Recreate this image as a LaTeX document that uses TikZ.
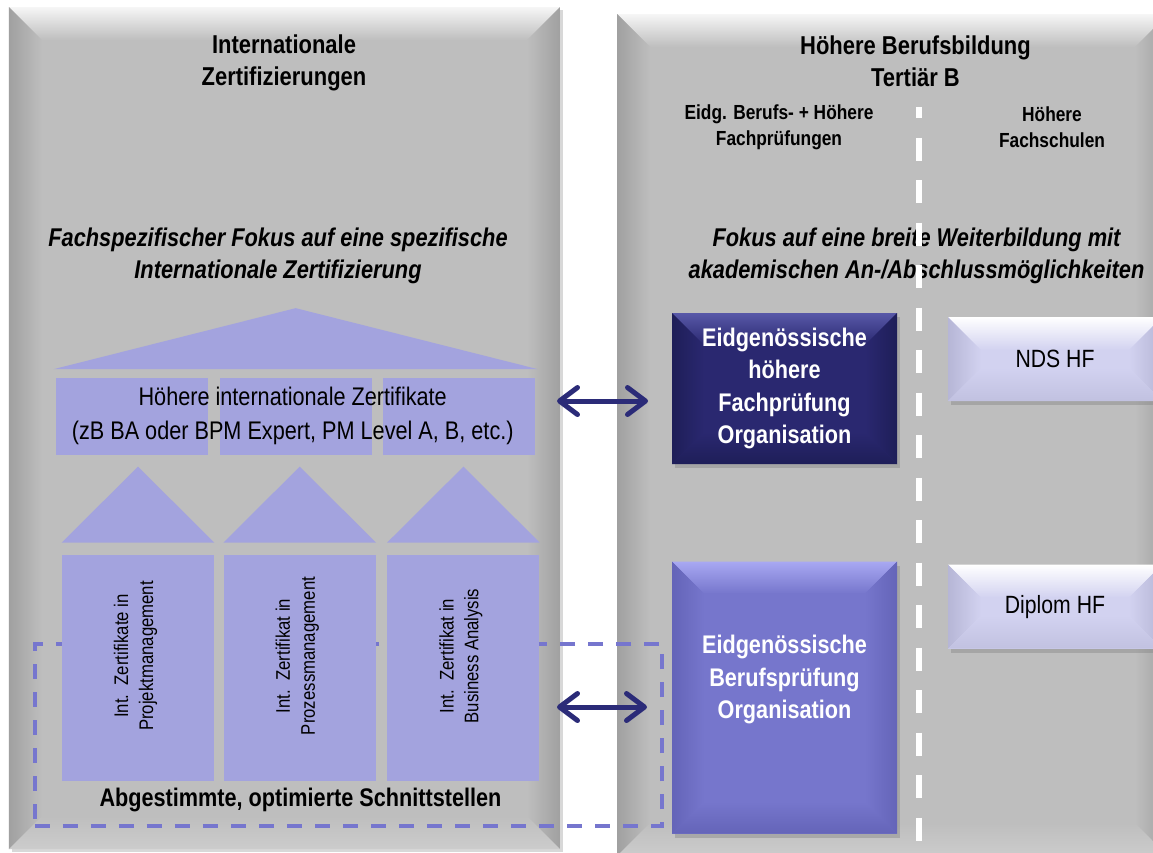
\documentclass[tikz,border=0pt]{standalone}
\usepackage{fontspec}
\setmainfont[FakeStretch=0.85]{Liberation Sans}
\usetikzlibrary{positioning}
\usetikzlibrary{arrows.meta}
\usetikzlibrary{shadows}

\definecolor{panelgray}{RGB}{190,190,190}
\definecolor{panellight}{RGB}{246,246,246}
\definecolor{paneldark}{RGB}{160,160,160}
\definecolor{panelbottom}{RGB}{204,204,204}
\definecolor{lav}{RGB}{163,163,222}
\definecolor{framecol}{RGB}{118,118,206}
\definecolor{arrowcol}{RGB}{43,43,120}
\definecolor{darkbox}{RGB}{42,40,112}
\definecolor{darktop}{RGB}{88,88,168}
\definecolor{darkside}{RGB}{30,30,88}
\definecolor{midbox}{RGB}{118,118,204}
\definecolor{midtop}{RGB}{168,168,242}
\definecolor{midside}{RGB}{100,100,184}
\definecolor{lightbox}{RGB}{210,210,240}
\definecolor{lighttop}{RGB}{255,255,255}
\definecolor{lightside}{RGB}{182,182,214}

\begin{document}
\begin{tikzpicture}[x=0.2mm, y=-0.2mm,
    bevel/.style n args={5}{path picture={
        \path (path picture bounding box.north west) coordinate (bnw)
              (path picture bounding box.north east) coordinate (bne)
              (path picture bounding box.south west) coordinate (bsw)
              (path picture bounding box.south east) coordinate (bse);
        \shade[top color=#2, bottom color=#1] (bnw) -- (bne) -- ([shift={(-#5,-#5)}]bne) -- ([shift={(#5,-#5)}]bnw) -- cycle;
        \shade[left color=#3, right color=#1] (bnw) -- ([shift={(#5,-#5)}]bnw) -- ([shift={(#5,#5)}]bsw) -- (bsw) -- cycle;
        \shade[left color=#1, right color=#3] (bne) -- ([shift={(-#5,-#5)}]bne) -- ([shift={(-#5,#5)}]bse) -- (bse) -- cycle;
        \shade[top color=#1, bottom color=#4] (bsw) -- ([shift={(#5,#5)}]bsw) -- ([shift={(-#5,#5)}]bse) -- (bse) -- cycle;
    }},
    panel/.style={minimum width=110.2mm, minimum height=168.4mm, inner sep=0pt, fill=panelgray,
        drop shadow={shadow xshift=0.6mm, shadow yshift=-0.6mm, opacity=0.3},
        bevel={panelgray}{panellight}{paneldark}{panelbottom}{6.6mm}},
    dframe/.style={draw=framecol, line width=0.7mm, dash pattern=on 3mm off 2.6mm,
        minimum width=125.4mm, minimum height=36.4mm, inner sep=0pt},
    pillar/.style={fill=lav, minimum width=30.4mm, minimum height=45.2mm, inner sep=0pt},
    beam/.style={fill=lav, minimum width=30.4mm, minimum height=15.4mm, inner sep=0pt},
    orgbox/.style={minimum width=45mm, inner sep=0pt,
        drop shadow={shadow xshift=0.5mm, shadow yshift=-0.8mm, opacity=0.4}},
    hfbox/.style={minimum width=42.8mm, minimum height=16.8mm, inner sep=0pt, fill=lightbox,
        drop shadow={shadow xshift=0.5mm, shadow yshift=-0.8mm, opacity=0.4},
        bevel={lightbox}{lighttop}{lightside}{lightside!60!lightbox}{6.6mm},
        font=\fontsize{14.2}{16}\selectfont},
    title/.style={font=\fontsize{14.7}{18.2}\selectfont\bfseries, align=center},
    subhead/.style={font=\fontsize{11.6}{14.8}\selectfont\bfseries, align=center},
    focus/.style={font=\fontsize{14.6}{18.6}\selectfont\bfseries\itshape, align=center},
    beamtext/.style={font=\fontsize{14.5}{19.2}\selectfont, align=center},
    pillartext/.style={font=\fontsize{11.2}{14.2}\selectfont, align=center, rotate=90},
    boxtext/.style={font=\fontsize{14.5}{18.4}\selectfont\bfseries, align=center, text=white},
    biarrow/.style={{Straight Barb[length=3.6mm,width=5.4mm,round]}-{Straight Barb[length=3.6mm,width=5.4mm,round]},
        line width=1mm, draw=arrowcol, line cap=round}]

    \useasboundingbox (0,0) rectangle (1153,852);
    \clip (0,0) rectangle (1153,852);
    \fill[white] (0,0) rectangle (1153,852);

    % the two panels
    \node[panel] (intl) at (284.5,428) {};
    \node[panel] (hbb) at (892.5,435) {};

    \node[title] (intltitle) at (284,63) {Internationale\\Zertifizierungen};
    \node[title] (hbbtitle) at (915.5,61) {Höhere Berufsbildung\\Tertiär B};
    \node[subhead] (eidghdr) at (779,127) {Eidg. Berufs- + Höhere\\Fachprüfungen};
    \node[subhead] (hfhdr) at (1052,127) {Höhere\\Fachschulen};
    \node[focus] (fokusl) at (278,256) {Fachspezifischer Fokus auf eine spezifische\\Internationale Zertifizierung};
    \node[focus] (fokusr) at (916.5,256) {Fokus auf eine breite Weiterbildung mit\\akademischen An-/Abschlussmöglichkeiten};

    % dashed frame behind the pillars
    \node[dframe] (frame) at (348.5,735) {};
    \node[font=\fontsize{14.5}{16}\selectfont\bfseries] (schnitt) at (300.5,800) {Abgestimmte, optimierte Schnittstellen};

    % pillars with their small roofs
    \node[pillar] (col1) at (138,668) {};
    \node[pillar, right=1.8mm of col1] (col2) {};
    \node[pillar, right=2.2mm of col2] (col3) {};
    \fill[lav] ([yshift=2.4mm]col1.north west) -- ([yshift=17.6mm]col1.north) -- ([yshift=2.4mm]col1.north east) -- cycle;
    \fill[lav] ([yshift=2.4mm]col2.north west) -- ([yshift=17.6mm]col2.north) -- ([yshift=2.4mm]col2.north east) -- cycle;
    \fill[lav] ([yshift=2.4mm]col3.north west) -- ([yshift=17.6mm]col3.north) -- ([yshift=2.4mm]col3.north east) -- cycle;
    \node[pillartext] (col1t) at ([xshift=-0.5mm, yshift=2.4mm]col1.center) {Int.\ \ Zertifikate in\\Projektmanagement};
    \node[pillartext] (col2t) at ([xshift=-0.5mm, yshift=2.4mm]col2.center) {Int.\ \ Zertifikat in\\Prozessmanagement};
    \node[pillartext] (col3t) at ([xshift=-0.5mm, yshift=2.4mm]col3.center) {Int.\ \ Zertifikat in\\Business Analysis};

    % beam and big roof
    \node[beam] (hb1) at (132,416) {};
    \node[beam, right=2.2mm of hb1] (hb2) {};
    \node[beam, right=2.2mm of hb2] (hb3) {};
    \fill[lav] ([xshift=-0.4mm, yshift=1.6mm]hb1.north west) -- ([yshift=13.8mm]hb2.north) -- ([xshift=0.4mm, yshift=1.6mm]hb3.north east) -- cycle;
    \node[beamtext] (hbt) at ([xshift=-0.6mm]hb2.center) {Höhere internationale Zertifikate\\(zB BA oder BPM Expert, PM Level A, B, etc.)};

    % organisation boxes
    \node[orgbox, minimum height=30.2mm, fill=darkbox, boxtext,
        bevel={darkbox}{darktop}{darkside}{darkside}{6.4mm}] (efp) at (784.5,388.5)
        {Eidgenössische\\höhere\\Fachprüfung\\Organisation};
    \node[orgbox, minimum height=54.4mm, fill=midbox,
        bevel={midbox}{midtop}{midside}{midside}{6.4mm}, below=19.4mm of efp] (ebp) {};
    \node[boxtext] (ebpt) at ([yshift=3.6mm]ebp.center) {Eidgenössische\\Berufsprüfung\\Organisation};

    \node[hfbox] (nds) at (1055,359) {NDS HF};
    \node[hfbox, below=32.6mm of nds] (dipl) {Diplom HF};

    % links
    \coordinate (a1w) at (557,401);
    \coordinate (a1e) at (648,401);
    \coordinate (a2w) at (557,707);
    \coordinate (a2e) at (647,707);
    \draw[biarrow] (a1w) -- (a1e);
    \draw[biarrow] (a2w) -- (a2e);

    % divider
    \draw[white, line width=1.3mm, dash pattern=on 4.6mm off 3.9mm, dash phase=2.4mm] (919,107) -- (919,860);
\end{tikzpicture}
\end{document}
